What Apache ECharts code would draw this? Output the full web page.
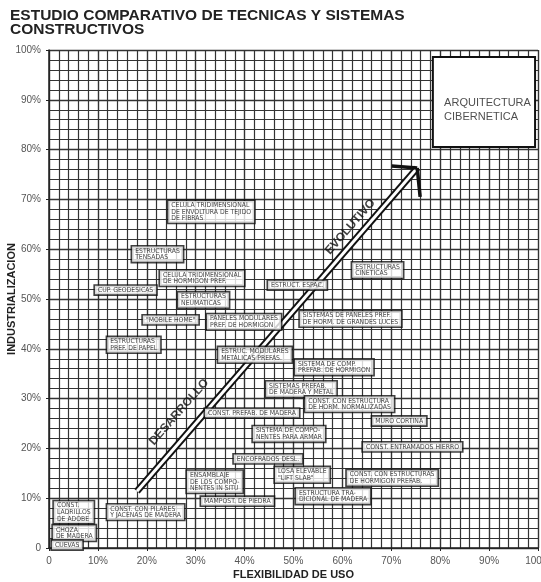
<!DOCTYPE html>
<html>
<head>
<meta charset="utf-8">
<script src="https://cdn.jsdelivr.net/npm/echarts@6/dist/echarts.min.js"></script>
<style>
  html, body { margin: 0; padding: 0; background: #fff; }
  #chart { width: 541px; height: 582px; }
</style>
</head>
<body>
<div id="chart"></div>
<script>
// Sistemas constructivos: nombre, flexibilidad de uso (%, borde izquierdo de la caja), industrializacion (%)
const sistemas = [
  'CELULA TRIDIMENSIONAL\nDE ENVOLTURA DE TEJIDO\nDE FIBRAS',
  'ESTRUCTURAS\nTENSADAS',
  'CELULA TRIDIMENSIONAL\nDE HORMIGON PREF.',
  'CUP. GEODESICAS',
  'ESTRUCTURAS\nNEUMATICAS',
  '"MOBILE HOME"',
  'PANELES MODULARES\nPREF. DE HORMIGON',
  'ESTRUCTURAS\nPREF. DE PAPEL',
  'ESTRUC. MODULARES\nMETALICAS PREFAS.',
  'ESTRUCT. ESPAC.',
  'ESTRUCTURAS\nCINETICAS',
  'SISTEMAS DE PANELES PREF.\nDE HORM. DE GRANDES LUCES',
  'SISTEMA DE COMP.\nPREFAB. DE HORMIGON',
  'SISTEMAS PREFAB.\nDE MADERA Y METAL',
  'CONST. CON ESTRUCTURA\nDE HORM. NORMALIZADAS',
  'CONST. PREFAB. DE MADERA',
  'MURO CORTINA',
  'SISTEMA DE COMPO-\nNENTES PARA ARMAR',
  'CONST. ENTRAMADOS HIERRO',
  'ENCOFRADOS DESL.',
  'LOSA ELEVABLE\n"LIFT SLAB"',
  'CONST. CON ESTRUCTURAS\nDE HORMIGON PREFAB.',
  'ENSAMBLAJE\nDE LOS COMPO-\nNENTES IN SITU',
  'MAMPOST. DE PIEDRA',
  'ESTRUCTURA TRA-\nDICIONAL DE MADERA',
  'CONST. CON PILARES\nY JACENAS DE MADERA',
  'CONST.\nLADRILLOS\nDE ADOBE',
  'CHOZA\nDE MADERA',
  'CUEVAS'
];
const flexibilidad = [24.4, 17.0, 22.7, 9.4, 26.4, 19.2, 32.3, 11.9, 34.6, 44.8,
  62.0, 51.3, 50.3, 44.4, 52.4, 31.9, 66.1, 41.7, 64.2, 37.8,
  46.2, 60.9, 28.2, 31.1, 50.5, 11.9, 1.0, 0.8, 0.6];
const industrializacion = [67.5, 59.0, 54.2, 51.8, 49.8, 45.8, 45.4, 40.8, 38.8, 52.8,
  55.8, 46.0, 36.3, 31.9, 28.9, 27.1, 25.5, 22.9, 20.3, 17.9,
  14.7, 14.1, 13.3, 9.4, 10.4, 7.2, 7.2, 3.0, 0.6];

// Flecha "desarrollo evolutivo"
const flechaX = [18.0, 75.3];
const flechaY = [11.4, 76.3];
const rotulosFlecha = ['DESARROLLO', 'EVOLUTIVO'];
const rotulosX = [26.6, 61.6];
const rotulosY = [27.3, 64.5];

// Recuadro de arquitectura cibernetica
const cibernetica = 'ARQUITECTURA\nCIBERNETICA';
const ciberX = [78.5, 99.4];
const ciberY = [80.5, 98.6];
const ciberTexto = [80.8, 88.0];

const ejeTicks = [0, 10, 20, 30, 40, 50, 60, 70, 80, 90, 100];

const gris = '#333';
const fuenteCaja = "'Liberation Sans Narrow', 'DejaVu Sans Condensed', Arial, sans-serif";

const puntos = sistemas.map((s, i) => [flexibilidad[i], industrializacion[i], s]);

function eje(nombre, gap, rot) {
  return {
    type: 'value',
    min: ejeTicks[0],
    max: ejeTicks[ejeTicks.length - 1],
    interval: 10,
    name: nombre,
    nameLocation: 'middle',
    nameGap: gap,
    nameRotate: rot,
    nameMoveOverlap: false,
    nameTextStyle: { fontFamily: 'Liberation Sans, Arial', fontWeight: 'bold', fontSize: 11, color: '#222' },
    axisLine: { show: true, lineStyle: { color: '#222', width: 1.5 } },
    axisTick: { show: true, length: 3, lineStyle: { color: '#222' } },
    axisLabel: {
      fontFamily: 'Liberation Sans, Arial',
      fontSize: 10,
      color: '#555',
      formatter: v => v === 0 ? '0' : v + '%'
    },
    splitLine: { show: true, lineStyle: { color: gris, width: 1.4 } },
    minorTick: { show: false, splitNumber: 5 },
    minorSplitLine: { show: true, lineStyle: { color: gris, width: 1.2 } }
  };
}

const chart = echarts.init(document.getElementById('chart'));
chart.setOption({
  animation: false,
  backgroundColor: '#fff',
  title: {
    text: 'ESTUDIO COMPARATIVO DE TECNICAS Y SISTEMAS\nCONSTRUCTIVOS',
    left: 5,
    top: 3,
    textStyle: { fontFamily: 'Liberation Sans, Arial', fontWeight: 'bold', fontSize: 15.5, lineHeight: 14.5, color: '#222' }
  },
  grid: { left: 49, right: 3, top: 50, bottom: 34, containLabel: false, outerBoundsMode: 'none' },
  xAxis: eje('FLEXIBILIDAD DE USO', 21, 0),
  yAxis: eje('INDUSTRIALIZACION', 32, 90),
  series: [
    // flecha: linea gruesa negra con interior blanco
    {
      type: 'line',
      z: 3,
      symbol: 'none',
      data: [[flechaX[0], flechaY[0]], [flechaX[1], flechaY[1]]],
      lineStyle: { color: '#111', width: 7 }
    },
    {
      type: 'line',
      z: 4,
      symbol: 'none',
      data: [[flechaX[0], flechaY[0]], [flechaX[1], flechaY[1]]],
      lineStyle: { color: '#fff', width: 3 },
      markLine: {
        silent: true,
        symbol: ['none', 'none'],
        lineStyle: { color: '#111', width: 3.5, type: 'solid' },
        label: { show: false },
        data: [
          [{ coord: [flechaX[1], flechaY[1]] }, { coord: [flechaX[1] - 5.2, flechaY[1] + 0.4] }],
          [{ coord: [flechaX[1], flechaY[1]] }, { coord: [flechaX[1] + 0.6, flechaY[1] - 5.8] }]
        ]
      }
    },
    // rotulos de la flecha
    {
      type: 'scatter',
      z: 5,
      symbolSize: 0,
      data: rotulosFlecha.map((r, i) => [rotulosX[i], rotulosY[i], r]),
      label: {
        show: true,
        position: 'inside',
        rotate: 48.8,
        formatter: p => p.value[2],
        fontFamily: 'Liberation Sans, Arial',
        fontWeight: 'bold',
        fontSize: 12,
        color: '#111'
      }
    },
    // recuadro arquitectura cibernetica
    {
      type: 'scatter',
      z: 6,
      symbolSize: 0,
      data: [[ciberTexto[0], ciberTexto[1], cibernetica]],
      label: {
        show: true,
        position: 'inside',
        align: 'left',
        formatter: p => p.value[2],
        fontFamily: 'Liberation Sans, Arial',
        fontSize: 11,
        lineHeight: 14,
        color: '#222'
      },
      markArea: {
        silent: true,
        itemStyle: { color: '#fff', borderColor: '#111', borderWidth: 2 },
        data: [[{ coord: [ciberX[0], ciberY[1]] }, { coord: [ciberX[1], ciberY[0]] }]]
      }
    },
    // cajas de sistemas constructivos
    {
      type: 'scatter',
      z: 10,
      symbolSize: 0,
      data: puntos,
      label: {
        show: true,
        position: 'inside',
        formatter: p => p.value[2],
        fontFamily: fuenteCaja,
        fontSize: 6.8,
        lineHeight: 6.6,
        color: '#111',
        align: 'left',
        verticalAlign: 'middle',
        backgroundColor: '#fff',
        borderColor: '#111',
        borderWidth: 1.6,
        padding: [1, 3, 1, 3]
      }
    }
  ]
});
</script>
</body>
</html>
